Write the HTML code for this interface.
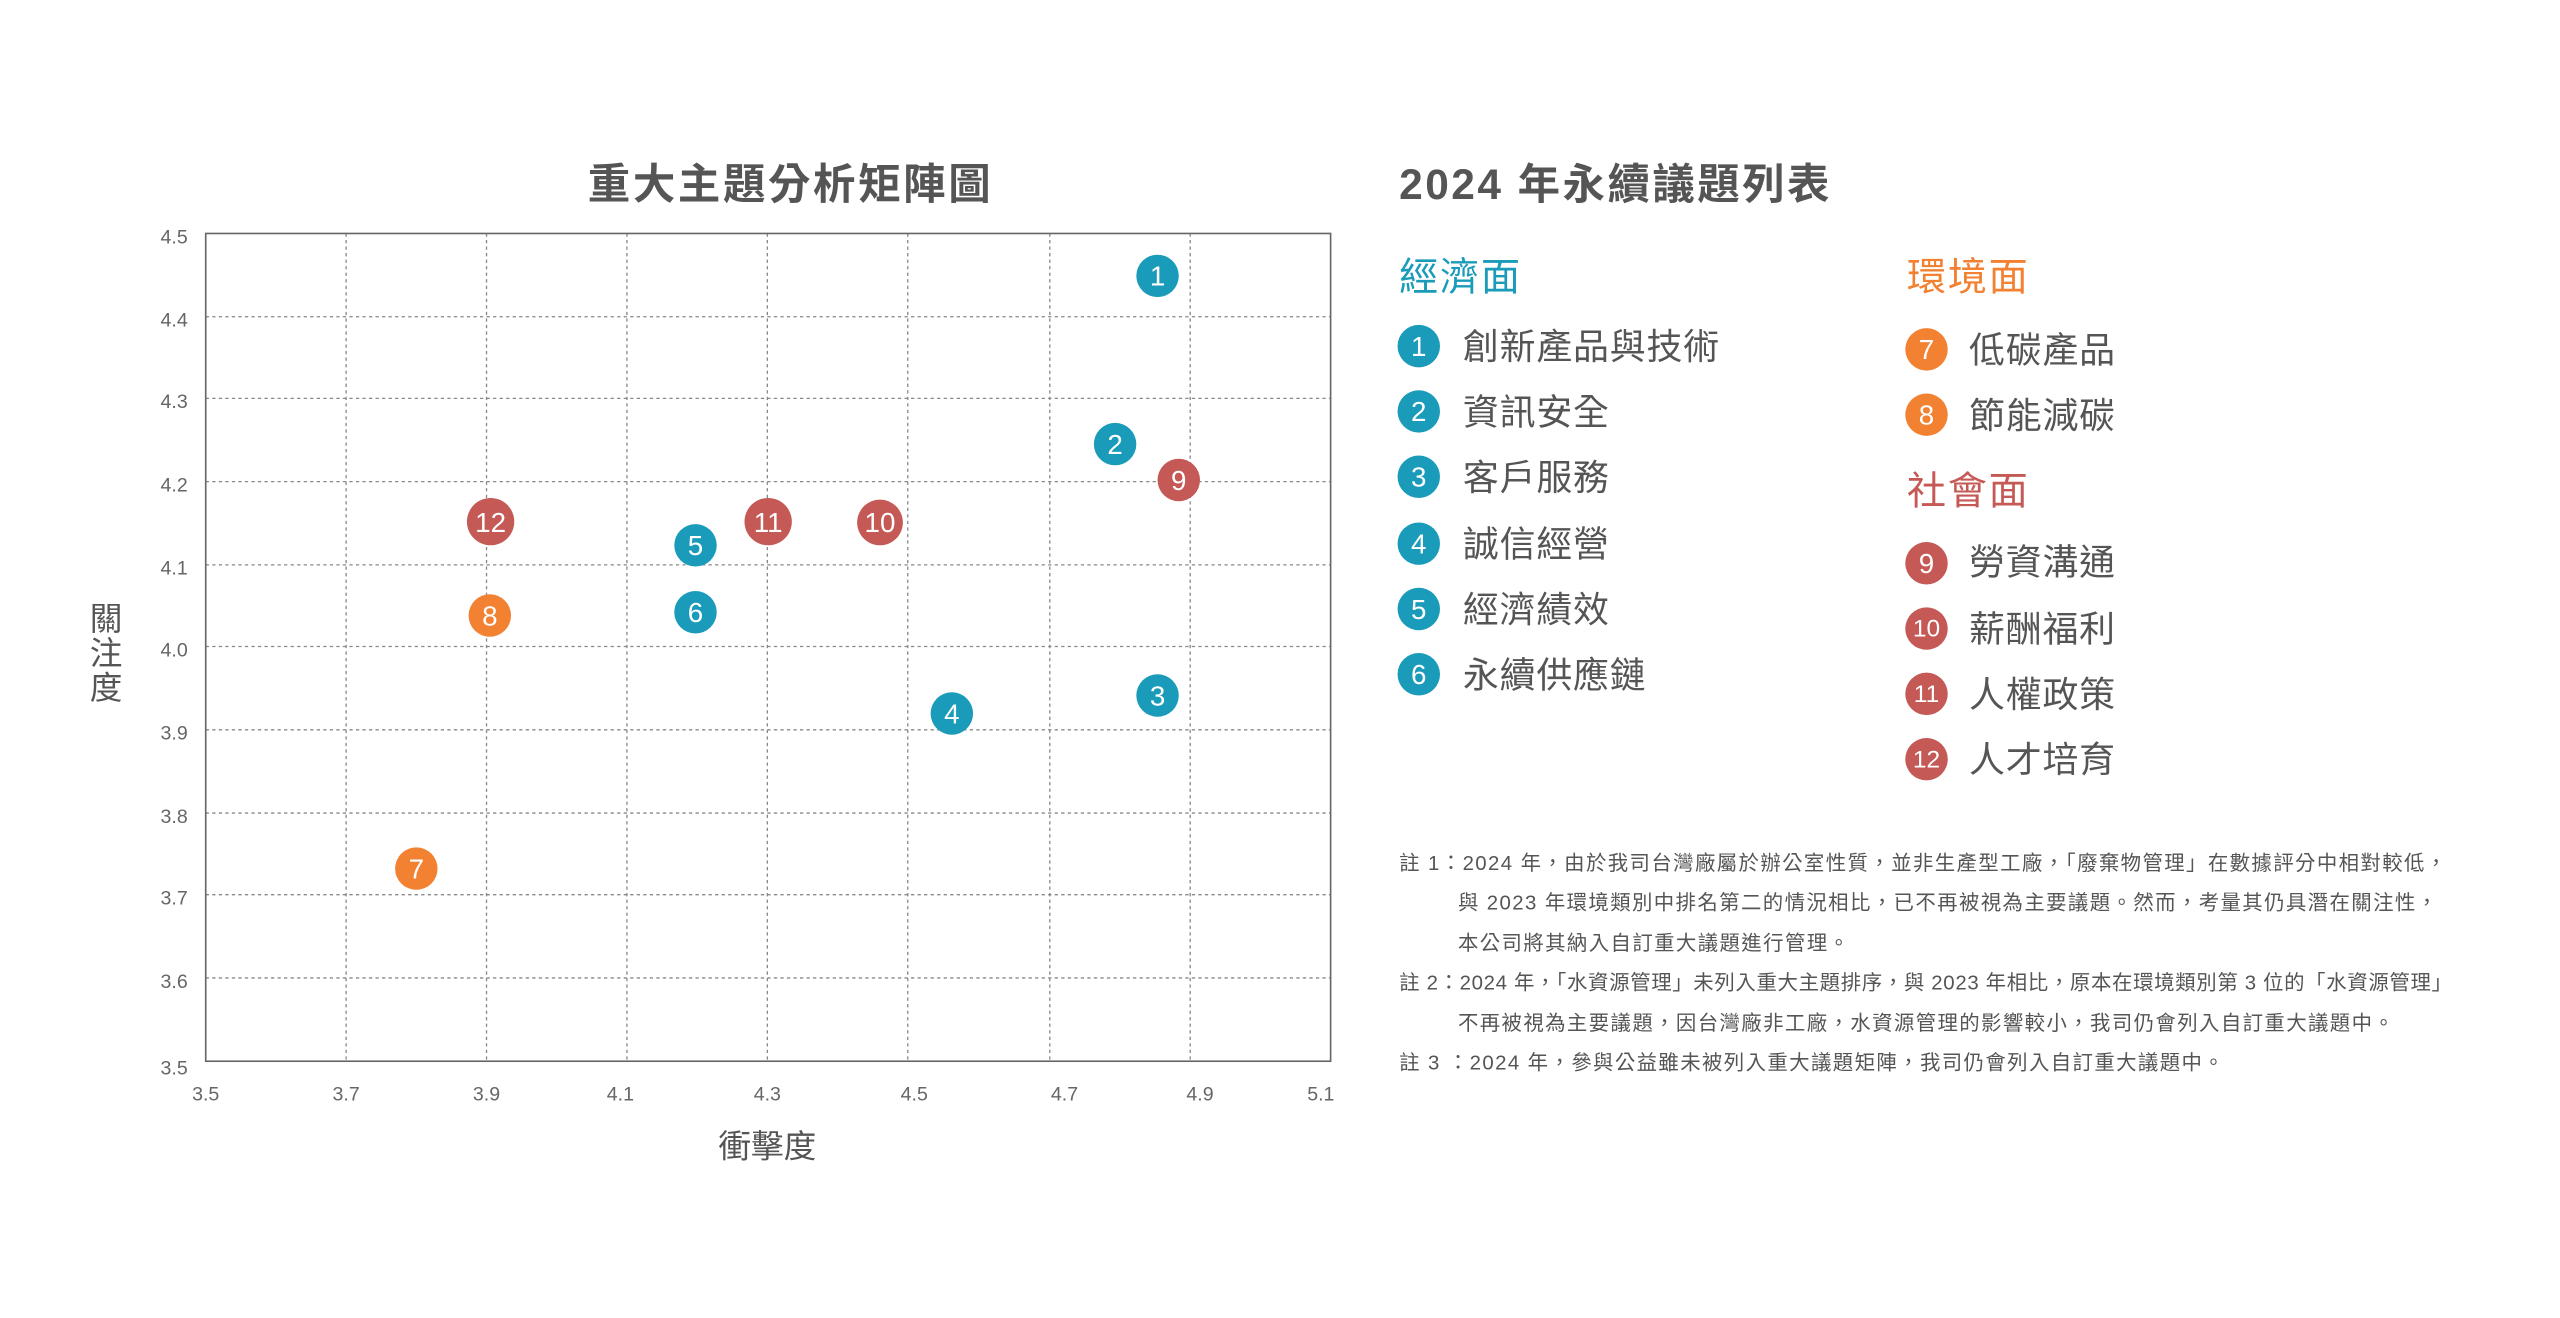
<!DOCTYPE html>
<html><head><meta charset="utf-8"><style>
html,body{margin:0;padding:0;background:#fff;width:2560px;height:1318px;overflow:hidden}
#w{position:absolute;left:0;top:0;width:1568px;height:807px;transform:scale(1.63265);transform-origin:0 0;font-family:"Liberation Sans","Noto Sans CJK TC",sans-serif;color:#555}
.a{position:absolute;white-space:nowrap}
.c{position:absolute;border-radius:50%;color:#fff;text-align:center;font-size:17px;font-family:"Liberation Sans",sans-serif}
.c span{position:relative;top:1px}
.b{background:#1a9bba}.o{background:#f28132}.r{background:#c45955}
.it{position:absolute;font-size:22px;color:#555;white-space:nowrap;letter-spacing:0.5px}
.n{position:absolute;font-size:12.5px;color:#555;white-space:nowrap;letter-spacing:0.85px}
</style></head><body><div id="w">
<div class="a" style="left:360px;top:93px;font-size:26px;font-weight:bold;color:#555;letter-spacing:1.6px">重大主題分析矩陣圖</div>
<svg class="a" style="left:0;top:0" width="830" height="807">
<g stroke="#888" stroke-width="0.8" stroke-dasharray="2,2">
<line x1="212" y1="143" x2="212" y2="650"/><line x1="298" y1="143" x2="298" y2="650"/><line x1="384" y1="143" x2="384" y2="650"/><line x1="470" y1="143" x2="470" y2="650"/><line x1="556" y1="143" x2="556" y2="650"/><line x1="643" y1="143" x2="643" y2="650"/><line x1="729" y1="143" x2="729" y2="650"/>
<line x1="126" y1="194" x2="815" y2="194"/><line x1="126" y1="244" x2="815" y2="244"/><line x1="126" y1="295" x2="815" y2="295"/><line x1="126" y1="346" x2="815" y2="346"/><line x1="126" y1="396" x2="815" y2="396"/><line x1="126" y1="447" x2="815" y2="447"/><line x1="126" y1="498" x2="815" y2="498"/><line x1="126" y1="548" x2="815" y2="548"/><line x1="126" y1="599" x2="815" y2="599"/>
</g>
<rect x="126" y="143" width="689" height="507" fill="none" stroke="#666" stroke-width="1"/>
<g font-family="Liberation Sans" font-size="12" fill="#666" text-anchor="end">
<text x="115" y="149">4.5</text><text x="115" y="200">4.4</text><text x="115" y="250">4.3</text><text x="115" y="301">4.2</text><text x="115" y="352">4.1</text><text x="115" y="402">4.0</text><text x="115" y="453">3.9</text><text x="115" y="504">3.8</text><text x="115" y="554">3.7</text><text x="115" y="605">3.6</text><text x="115" y="658">3.5</text>
</g>
<g font-family="Liberation Sans" font-size="12" fill="#666" text-anchor="middle">
<text x="126" y="674">3.5</text><text x="212" y="674">3.7</text><text x="298" y="674">3.9</text><text x="380" y="674">4.1</text><text x="470" y="674">4.3</text><text x="560" y="674">4.5</text><text x="652" y="674">4.7</text><text x="735" y="674">4.9</text><text x="809" y="674">5.1</text>
</g>
</svg>
<div class="a" style="left:55px;top:370px;font-size:20px;line-height:21px;width:22px;white-space:normal">關注度</div>
<div class="a" style="left:440px;top:686px;font-size:20px">衝擊度</div>
<div class="c b" style="left:696px;top:156px;width:26px;height:26px;line-height:26px"><span>1</span></div>
<div class="c b" style="left:670px;top:259px;width:26px;height:26px;line-height:26px"><span>2</span></div>
<div class="c r" style="left:709px;top:281px;width:26px;height:26px;line-height:26px"><span>9</span></div>
<div class="c r" style="left:286px;top:305px;width:29px;height:29px;line-height:29px"><span>12</span></div>
<div class="c r" style="left:456px;top:305px;width:29px;height:29px;line-height:29px"><span>11</span></div>
<div class="c r" style="left:525px;top:306px;width:28px;height:28px;line-height:28px"><span>10</span></div>
<div class="c b" style="left:413px;top:321px;width:26px;height:26px;line-height:26px"><span>5</span></div>
<div class="c o" style="left:287px;top:364px;width:26px;height:26px;line-height:26px"><span>8</span></div>
<div class="c b" style="left:413px;top:362px;width:26px;height:26px;line-height:26px"><span>6</span></div>
<div class="c b" style="left:570px;top:424px;width:26px;height:26px;line-height:26px"><span>4</span></div>
<div class="c b" style="left:696px;top:413px;width:26px;height:26px;line-height:26px"><span>3</span></div>
<div class="c o" style="left:242px;top:519px;width:26px;height:26px;line-height:26px"><span>7</span></div>

<div class="a" style="left:857px;top:93px;font-size:26px;font-weight:bold;color:#555;letter-spacing:1.5px">2024 年永續議題列表</div>
<div class="a" style="left:857px;top:150px;font-size:24px;color:#1a9bba;letter-spacing:1px">經濟面</div>
<div class="a" style="left:1168px;top:150px;font-size:24px;color:#f28132;letter-spacing:1px">環境面</div>
<div class="a" style="left:1168px;top:281px;font-size:24px;color:#c45955;letter-spacing:1px">社會面</div>

<div class="c b" style="left:856px;top:199px;width:26px;height:26px;line-height:26px"><span>1</span></div><div class="it" style="left:896px;top:195px">創新產品與技術</div>
<div class="c b" style="left:856px;top:239px;width:26px;height:26px;line-height:26px"><span>2</span></div><div class="it" style="left:896px;top:235px">資訊安全</div>
<div class="c b" style="left:856px;top:279px;width:26px;height:26px;line-height:26px"><span>3</span></div><div class="it" style="left:896px;top:275px">客戶服務</div>
<div class="c b" style="left:856px;top:320px;width:26px;height:26px;line-height:26px"><span>4</span></div><div class="it" style="left:896px;top:316px">誠信經營</div>
<div class="c b" style="left:856px;top:360px;width:26px;height:26px;line-height:26px"><span>5</span></div><div class="it" style="left:896px;top:356px">經濟績效</div>
<div class="c b" style="left:856px;top:400px;width:26px;height:26px;line-height:26px"><span>6</span></div><div class="it" style="left:896px;top:396px">永續供應鏈</div>

<div class="c o" style="left:1167px;top:201px;width:26px;height:26px;line-height:26px"><span>7</span></div><div class="it" style="left:1206px;top:197px">低碳產品</div>
<div class="c o" style="left:1167px;top:241px;width:26px;height:26px;line-height:26px"><span>8</span></div><div class="it" style="left:1206px;top:237px">節能減碳</div>
<div class="c r" style="left:1167px;top:332px;width:26px;height:26px;line-height:26px"><span>9</span></div><div class="it" style="left:1206px;top:327px">勞資溝通</div>
<div class="c r" style="left:1167px;top:372px;width:26px;height:26px;line-height:26px;font-size:15px"><span>10</span></div><div class="it" style="left:1206px;top:368px">薪酬福利</div>
<div class="c r" style="left:1167px;top:412px;width:26px;height:26px;line-height:26px;font-size:15px"><span>11</span></div><div class="it" style="left:1206px;top:408px">人權政策</div>
<div class="c r" style="left:1167px;top:452px;width:26px;height:26px;line-height:26px;font-size:15px"><span>12</span></div><div class="it" style="left:1206px;top:448px">人才培育</div>

<div class="n" style="left:857px;top:518px">註 1：2024 年，由於我司台灣廠屬於辦公室性質，並非生產型工廠，「廢棄物管理」在數據評分中相對較低，</div>
<div class="n" style="left:893px;top:542px">與 2023 年環境類別中排名第二的情況相比，已不再被視為主要議題。然而，考量其仍具潛在關注性，</div>
<div class="n" style="left:893px;top:567px">本公司將其納入自訂重大議題進行管理。</div>
<div class="n" style="left:857px;top:591px;letter-spacing:0.4px">註 2：2024 年，「水資源管理」未列入重大主題排序，與 2023 年相比，原本在環境類別第 3 位的「水資源管理」</div>
<div class="n" style="left:893px;top:616px">不再被視為主要議題，因台灣廠非工廠，水資源管理的影響較小，我司仍會列入自訂重大議題中。</div>
<div class="n" style="left:857px;top:640px">註 3 ：2024 年，參與公益雖未被列入重大議題矩陣，我司仍會列入自訂重大議題中。</div>
</div></body></html>
